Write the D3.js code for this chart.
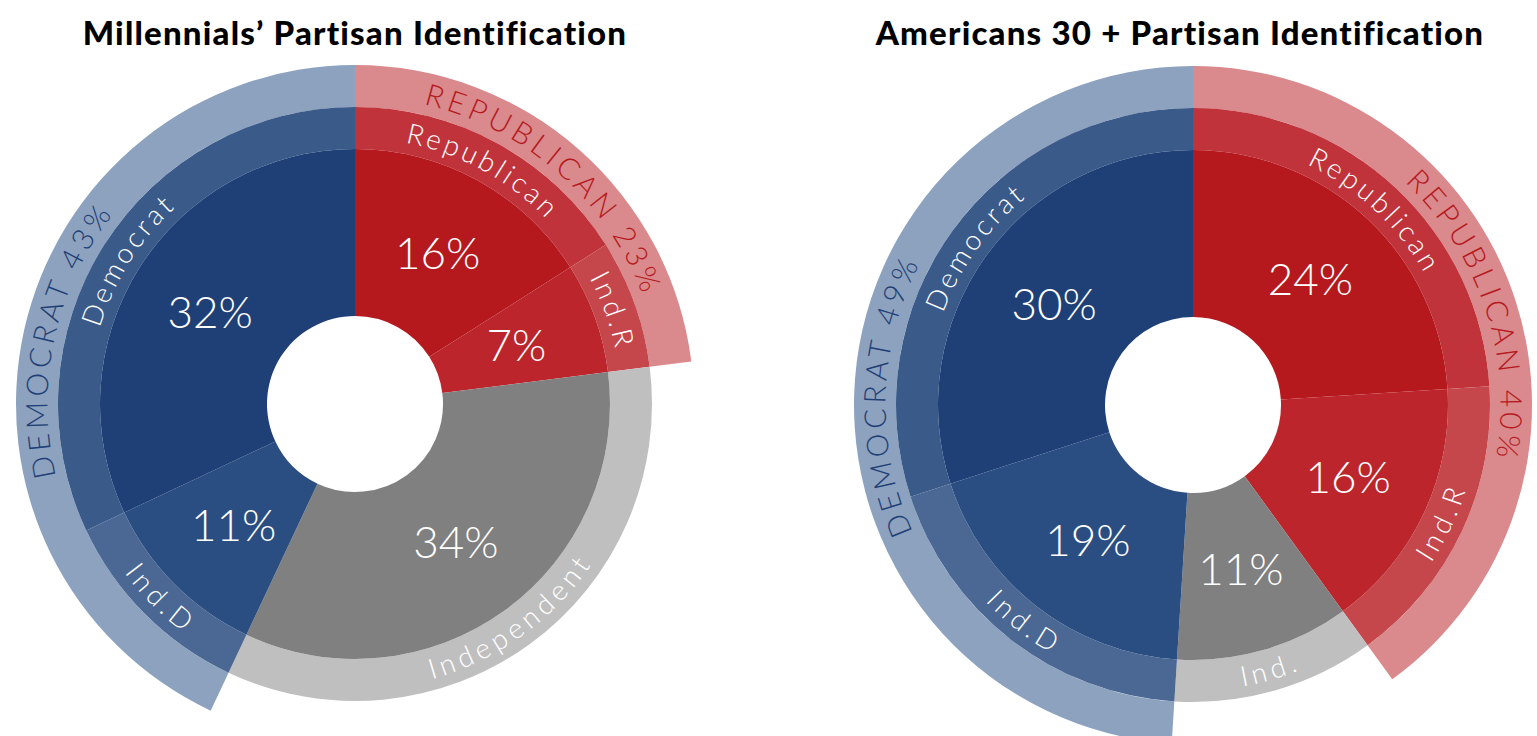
<!DOCTYPE html>
<meta charset="utf-8">
<title>Partisan Identification</title>
<style>
body { margin: 0; background: #fff; }
text { font-family: Lato, "Open Sans", sans-serif; }
.title { font-weight: 900; font-size: 33px; fill: #000; letter-spacing: 1.2px; }
.pct { font-weight: 300; font-size: 44px; fill: #fff; }
.ring-label { font-weight: 300; font-size: 28px; fill: #fff; letter-spacing: 4px; }
.party-label { font-weight: 300; font-size: 30px; letter-spacing: 5px; }
</style>
<svg width="1537" height="736"></svg>
<script src="https://d3js.org/d3.v7.min.js"></script>
<script>

// categories, going clockwise from 12 o'clock
var categories = ["Republican", "Ind.R", "Independent", "Ind.D", "Democrat"];

// share of each group (%)
var millennialValues = [16, 7, 34, 11, 32];
var olderValues = [24, 16, 11, 19, 30];

// labels of the middle ring
var millennialRingLabels = ["Republican", "Ind.R", "Independent", "Ind.D", "Democrat"];
var olderRingLabels = ["Republican", "Ind.R", "Ind.", "Ind.D", "Democrat"];

// outer ring: party = its categories
var partyNames = ["REPUBLICAN", "DEMOCRAT"];
var partyMembers = [["Republican", "Ind.R"], ["Ind.D", "Democrat"]];

var titles = ["Millennials\u2019 Partisan Identification", "Americans 30 + Partisan Identification"];

var svg = d3.select("svg");

//colours
var innerColor = d3.scaleOrdinal().domain(categories)
    .range(["#b5191e", "#bc252b", "#808080", "#2b4e82", "#1f4077"]);
var midColor = d3.scaleOrdinal().domain(categories)
    .range(["#c1333a", "#c5474b", "#bfbfbf", "#4a6893", "#3a5a8a"]);
var partyColor = d3.scaleOrdinal().domain(partyNames).range(["#da898c", "#8da2be"]);
var partyText = d3.scaleOrdinal().domain(partyNames).range(["#b5191e", "#1f4077"]);

// ring radii
var r0 = 88, r1 = 255, r2 = 297, r3 = 339;

var pie = d3.pie().sort(null).value(function(d) { return d.value; });
var innerArc = d3.arc().innerRadius(r0).outerRadius(r1);
var midArc = d3.arc().innerRadius(r1).outerRadius(r2);
var outerArc = d3.arc().innerRadius(r2).outerRadius(r3);

var uid = 0;

// arc path used by textPath; flipped on the lower half so text reads upright
function labelPath(a0, a1, r) {
  var mid = (a0 + a1) / 2;
  var p = d3.path();
  if (mid > Math.PI / 2 && mid < Math.PI * 1.5) {
    p.arc(0, 0, r, a1 - Math.PI / 2, a0 - Math.PI / 2, true);
  } else {
    p.arc(0, 0, r, a0 - Math.PI / 2, a1 - Math.PI / 2, false);
  }
  return p.toString();
}

function curvedLabel(g, a0, a1, r, txt, cls, fill) {
  var id = "lp" + (uid++);
  g.append("path").attr("id", id).attr("d", labelPath(a0, a1, r)).attr("fill", "none");
  g.append("text").attr("class", cls).attr("dy", "0.35em").attr("fill", fill)
    .append("textPath")
      .attr("href", "#" + id)
      .attr("startOffset", "50%")
      .attr("text-anchor", "middle")
      .text(txt);
}

function drawChart(cx, cy, titleX, title, values, ringLabels) {
  var data = categories.map(function(c, i) {
    return { key: c, value: values[i], label: ringLabels[i] };
  });
  var slices = pie(data);

  svg.append("text")
      .attr("class", "title")
      .attr("x", titleX)
      .attr("y", 45)
      .attr("text-anchor", "middle")
      .text(title);

  var g = svg.append("g").attr("transform", "translate(" + cx + "," + cy + ")");

  // outer party ring
  partyNames.forEach(function(p, i) {
    var parts = slices.filter(function(s) { return partyMembers[i].indexOf(s.data.key) >= 0; });
    var a0 = d3.min(parts, function(s) { return s.startAngle; });
    var a1 = d3.max(parts, function(s) { return s.endAngle; });
    var total = d3.sum(parts, function(s) { return s.data.value; });
    g.append("path")
        .attr("d", outerArc({ startAngle: a0, endAngle: a1 }))
        .attr("fill", partyColor(p));
    curvedLabel(g, a0, a1, (r2 + r3) / 2, p + " " + total + "%", "party-label", partyText(p));
  });

  // middle ring
  g.selectAll(".mid").data(slices).enter().append("path")
      .attr("class", "mid")
      .attr("d", midArc)
      .attr("fill", function(d) { return midColor(d.data.key); });

  slices.forEach(function(s) {
    curvedLabel(g, s.startAngle, s.endAngle, (r1 + r2) / 2, s.data.label, "ring-label", "#fff");
  });

  // inner slices
  g.selectAll(".inner").data(slices).enter().append("path")
      .attr("class", "inner")
      .attr("d", innerArc)
      .attr("fill", function(d) { return innerColor(d.data.key); });

  g.selectAll(".pct").data(slices).enter().append("text")
      .attr("class", "pct")
      .attr("transform", function(d) { return "translate(" + innerArc.centroid(d) + ")"; })
      .attr("dy", "0.35em")
      .attr("text-anchor", "middle")
      .text(function(d) { return d.data.value + "%"; });
}

drawChart(355, 404, 355, titles[0], millennialValues, millennialRingLabels);
drawChart(1193, 405, 1180, titles[1], olderValues, olderRingLabels);

</script>
